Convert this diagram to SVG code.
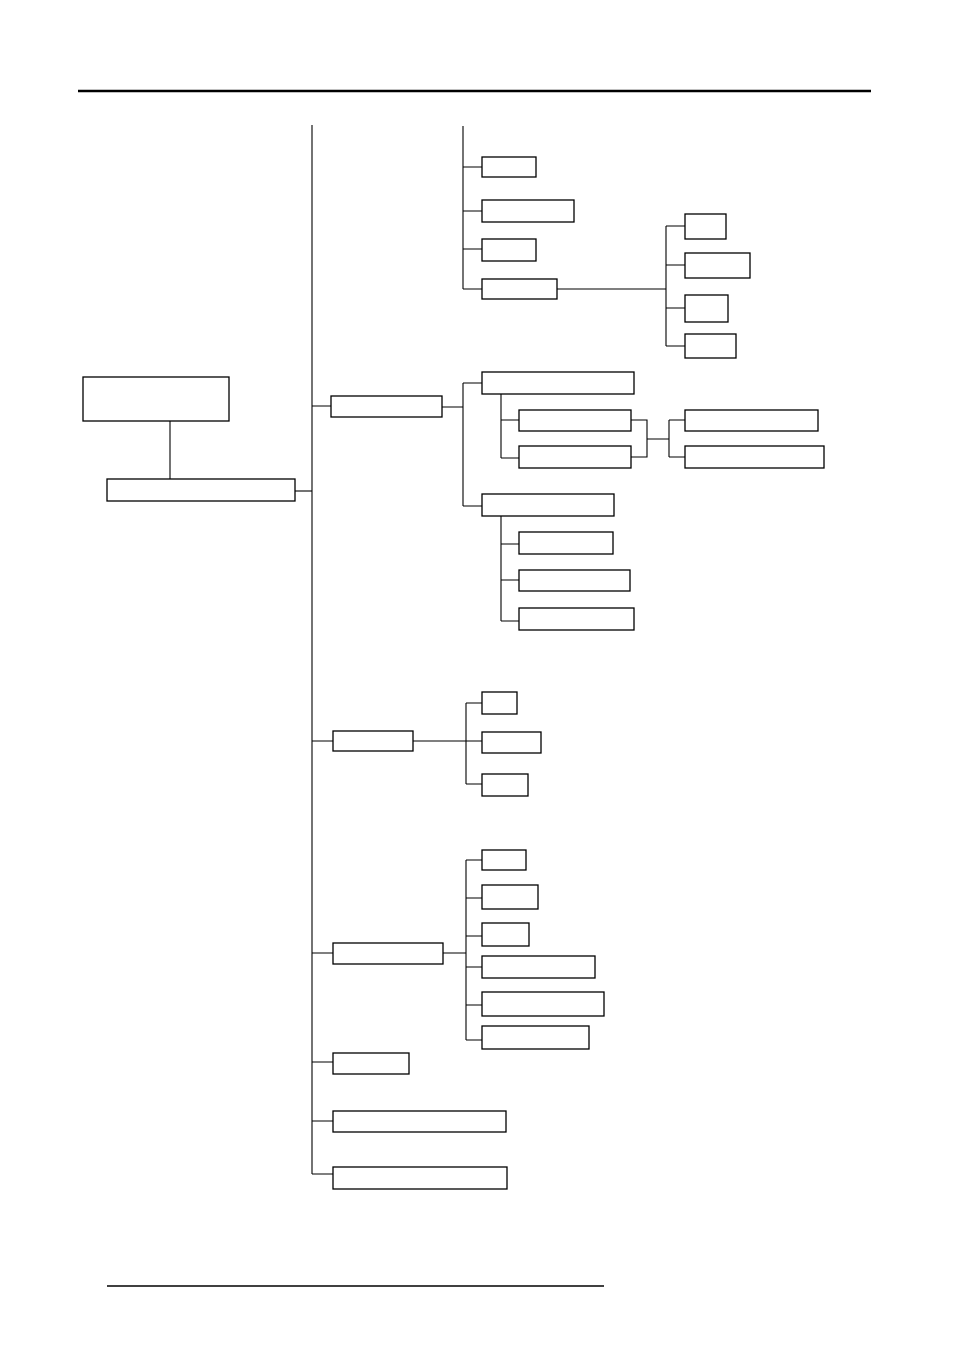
<svg xmlns="http://www.w3.org/2000/svg" width="954" height="1350" viewBox="0 0 954 1350">
<style>
.n{fill:#fff;stroke:#000;stroke-width:1.3}
.c{fill:none;stroke:#000;stroke-width:1.1}
</style>
<rect width="954" height="1350" fill="#fff"/>
<line x1="78" y1="91" x2="871" y2="91" stroke="#000" stroke-width="2.5"/>
<line x1="107" y1="1286" x2="604" y2="1286" stroke="#000" stroke-width="1.3"/>
<g id="connectors" class="c">
<path d="M170 421V480"/>
<path d="M295 491H312"/>
<path d="M312 125V1174"/>
<path d="M312 406H331M312 741H333M312 953H333M312 1062H333M312 1121H333M312 1174H336"/>
<path d="M463 126V289"/>
<path d="M463 167H482M463 211H482M463 249H482M463 289H482"/>
<path d="M557 289H666"/>
<path d="M666 226V346M666 226H685M666 265H685M666 308H685M666 346H685"/>
<path d="M442 407H463M463 383V506M463 383H482M463 506H482"/>
<path d="M501 394V458M501 420H519M501 458H519"/>
<path d="M631 420H647V457H631M647 439H669M669 420V457M669 420H685M669 457H685"/>
<path d="M501 516V621M501 544H519M501 580H519M501 621H519"/>
<path d="M413 741H466M466 703V784M466 703H482M466 741H482M466 784H482"/>
<path d="M443 953H466M466 860V1040M466 860H482M466 898H482M466 936H482M466 967H482M466 1005H482M466 1040H482"/>
</g>
<g id="n-root"><rect class="n" x="83" y="377" width="146" height="44"/></g>
<g id="n-main"><rect class="n" x="107" y="479" width="188" height="22"/></g>
<g id="n-a"><rect class="n" x="482" y="157" width="54" height="20"/></g>
<g id="n-b"><rect class="n" x="482" y="200" width="92" height="22"/></g>
<g id="n-c"><rect class="n" x="482" y="239" width="54" height="22"/></g>
<g id="n-d"><rect class="n" x="482" y="279" width="75" height="20"/></g>
<g id="n-e"><rect class="n" x="685" y="214" width="41" height="25"/></g>
<g id="n-f"><rect class="n" x="685" y="253" width="65" height="25"/></g>
<g id="n-g"><rect class="n" x="685" y="295" width="43" height="27"/></g>
<g id="n-h"><rect class="n" x="685" y="334" width="51" height="24"/></g>
<g id="n-b1"><rect class="n" x="331" y="396" width="111" height="21"/></g>
<g id="n-i"><rect class="n" x="482" y="372" width="152" height="22"/></g>
<g id="n-j"><rect class="n" x="519" y="410" width="112" height="21"/></g>
<g id="n-k"><rect class="n" x="519" y="446" width="112" height="22"/></g>
<g id="n-l"><rect class="n" x="685" y="410" width="133" height="21"/></g>
<g id="n-m"><rect class="n" x="685" y="446" width="139" height="22"/></g>
<g id="n-n"><rect class="n" x="482" y="494" width="132" height="22"/></g>
<g id="n-o"><rect class="n" x="519" y="532" width="94" height="22"/></g>
<g id="n-p"><rect class="n" x="519" y="570" width="111" height="21"/></g>
<g id="n-q"><rect class="n" x="519" y="608" width="115" height="22"/></g>
<g id="n-b2"><rect class="n" x="333" y="731" width="80" height="20"/></g>
<g id="n-r"><rect class="n" x="482" y="692" width="35" height="22"/></g>
<g id="n-s"><rect class="n" x="482" y="732" width="59" height="21"/></g>
<g id="n-t"><rect class="n" x="482" y="774" width="46" height="22"/></g>
<g id="n-b3"><rect class="n" x="333" y="943" width="110" height="21"/></g>
<g id="n-u"><rect class="n" x="482" y="850" width="44" height="20"/></g>
<g id="n-v"><rect class="n" x="482" y="885" width="56" height="24"/></g>
<g id="n-w"><rect class="n" x="482" y="923" width="47" height="23"/></g>
<g id="n-x"><rect class="n" x="482" y="956" width="113" height="22"/></g>
<g id="n-y"><rect class="n" x="482" y="992" width="122" height="24"/></g>
<g id="n-z"><rect class="n" x="482" y="1026" width="107" height="23"/></g>
<g id="n-b4"><rect class="n" x="333" y="1053" width="76" height="21"/></g>
<g id="n-b5"><rect class="n" x="333" y="1111" width="173" height="21"/></g>
<g id="n-b6"><rect class="n" x="333" y="1167" width="174" height="22"/></g>
</svg>
